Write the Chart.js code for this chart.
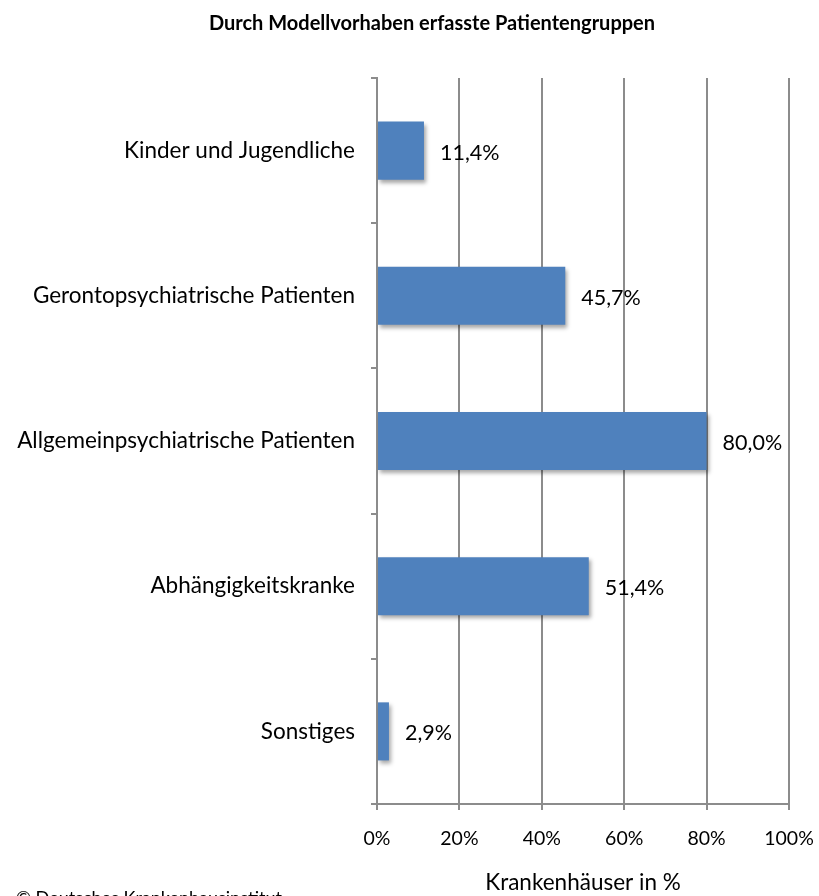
<!DOCTYPE html>
<html>
<head>
  <meta charset="UTF-8">
  <title>Durch Modellvorhaben erfasste Patientengruppen</title>
  <style type="text/css">
    html, body { margin: 0; padding: 0; background: #fff; overflow: hidden; }
    #chart-container { width: 819px; height: 896px; }
  </style>
  <script type="text/javascript" src="https://cdn.jsdelivr.net/npm/chart.js@4"></script>
</head>
<body>
<div id="chart-container">
  <canvas id="mycanvas" width="819" height="896"></canvas>
</div>
<script>
var groups = ['Kinder und Jugendliche', 'Gerontopsychiatrische Patienten', 'Allgemeinpsychiatrische Patienten', 'Abhängigkeitskranke', 'Sonstiges'];
var shares = [11.4, 45.7, 80.0, 51.4, 2.9];
var xTicks = [0, 20, 40, 60, 80, 100];

var FONT = 'Lato, "DejaVu Sans", sans-serif';
var GRID = '#8c8c8c';

function pct(v) {
  return v.toFixed(1).replace('.', ',') + '%';
}

// soft drop shadow under the bars
var barShadow = {
  id: 'barShadow',
  beforeDatasetsDraw: function(chart) {
    var ctx = chart.ctx;
    ctx.save();
    ctx.shadowColor = 'rgba(0,0,0,0.35)';
    ctx.shadowBlur = 4;
    ctx.shadowOffsetX = 2;
    ctx.shadowOffsetY = 3;
  },
  afterDatasetsDraw: function(chart) {
    chart.ctx.restore();
  }
};

// value labels next to bar ends
var valueLabels = {
  id: 'valueLabels',
  afterDatasetsDraw: function(chart) {
    var ctx = chart.ctx;
    var meta = chart.getDatasetMeta(0);
    ctx.save();
    ctx.font = '21.5px ' + FONT;
    ctx.fillStyle = '#000';
    ctx.textAlign = 'left';
    ctx.textBaseline = 'middle';
    meta.data.forEach(function(bar, i) {
      ctx.fillText(pct(shares[i]), bar.x + 16, bar.y + 2);
    });
    ctx.restore();
  }
};

// title (slightly right of centre, as in the source) and copyright line
var texts = {
  id: 'texts',
  afterDraw: function(chart) {
    var ctx = chart.ctx;
    ctx.save();
    ctx.fillStyle = '#000';
    ctx.textBaseline = 'middle';
    ctx.textAlign = 'center';
    ctx.font = 'bold 20px ' + FONT;
    ctx.fillText('Durch Modellvorhaben erfasste Patientengruppen', 432, 24);
    ctx.textAlign = 'left';
    ctx.font = '18px ' + FONT;
    ctx.fillText('\u00A9 Deutsches Krankenhausinstitut', 16, 898);
    ctx.restore();
  }
};

var ctx = document.getElementById('mycanvas');

new Chart(ctx, {
  type: 'bar',
  data: {
    labels: groups,
    datasets: [{
      label: 'Krankenhäuser in %',
      data: shares,
      backgroundColor: '#4f81bd',
      borderWidth: 0,
      categoryPercentage: 1.0,
      barPercentage: 0.4
    }]
  },
  options: {
    indexAxis: 'y',
    responsive: false,
    animation: false,
    layout: { padding: { left: 0, right: 30, top: 78, bottom: 0 } },
    plugins: {
      legend: { display: false },
      tooltip: { enabled: false },
      title: { display: false }
    },
    scales: {
      x: {
        min: 0,
        max: 100,
        afterBuildTicks: function(scale) {
          scale.ticks = xTicks.map(function(v) { return { value: v }; });
        },
        afterFit: function(scale) {
          scale.height = 92;
          scale.paddingLeft = 0;
          scale.paddingRight = 0;
        },
        grid: { color: GRID, lineWidth: 2, tickLength: 6 },
        border: { color: GRID, width: 2 },
        ticks: {
          color: '#000',
          padding: 17,
          font: { family: FONT, size: 19.5 },
          callback: function(v) { return v + '%'; }
        },
        title: {
          display: true,
          text: 'Krankenhäuser in %',
          color: '#000',
          font: { family: FONT, size: 22.5 },
          padding: { top: 0, bottom: 0 }
        }
      },
      y: {
        offset: true,
        afterFit: function(scale) {
          scale.width = 377;
        },
        grid: { display: true, drawOnChartArea: false, offset: true, color: GRID, lineWidth: 2, tickLength: 6 },
        border: { color: GRID, width: 2 },
        ticks: {
          color: '#000',
          padding: 16,
          font: { family: FONT, size: 22.5 }
        }
      }
    }
  },
  plugins: [barShadow, valueLabels, texts]
});
</script>
</body>
</html>
